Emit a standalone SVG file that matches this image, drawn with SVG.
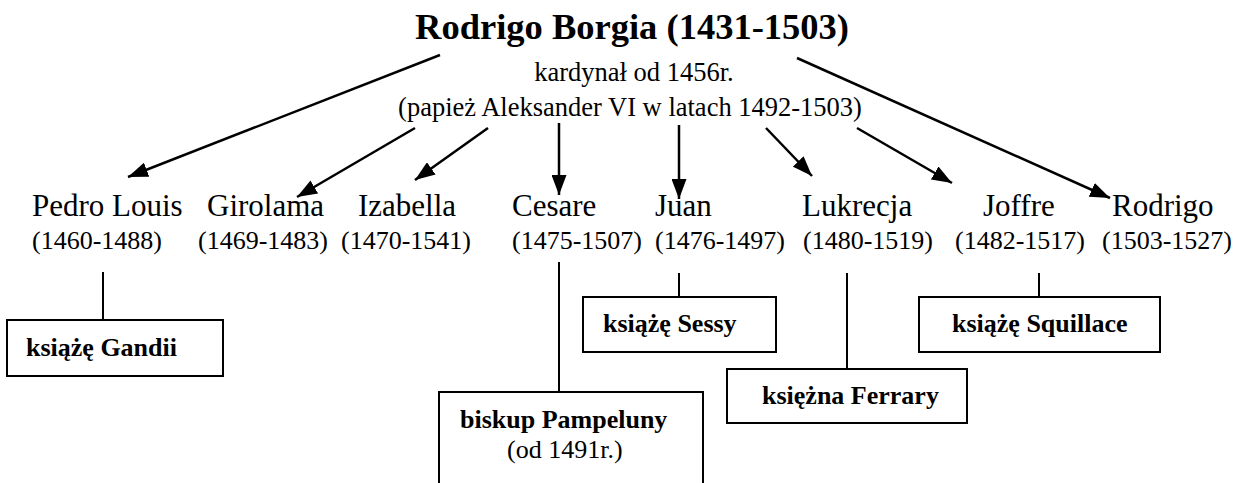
<svg xmlns="http://www.w3.org/2000/svg" width="1245" height="483" viewBox="0 0 1245 483">
<style>
text{font-family:"Liberation Serif","Times New Roman",serif;fill:#000}
.title{font-size:36.5px;font-weight:bold;text-anchor:middle}
.sub{font-size:26.5px;text-anchor:middle}
.name{font-size:31px}
.date{font-size:26px}
.lbl{font-size:26px;font-weight:bold}
.reg{font-size:26px}
.arrow{stroke:#000;stroke-width:2.5;fill:none;marker-end:url(#ah)}
.conn{stroke:#000;stroke-width:2;fill:none}
.box{stroke:#000;stroke-width:2;fill:#fff}
</style>
<defs>
<marker id="ah" markerUnits="userSpaceOnUse" markerWidth="20" markerHeight="15" refX="20" refY="7.5" orient="auto">
<path d="M0,0 L20,7.5 L0,15 z" fill="#000"/>
</marker>
</defs>
<rect width="1245" height="483" fill="#fff"/>
<g id="root">
<text class="title" x="632" y="39">Rodrigo Borgia (1431-1503)</text>
<text class="sub" x="634" y="81">kardynał od 1456r.</text>
<text class="sub" x="630" y="116">(papież Aleksander VI w latach 1492-1503)</text>
</g>
<g id="connectors">
<line class="arrow" x1="440" y1="55" x2="128" y2="177"/>
<line class="arrow" x1="415" y1="128" x2="297" y2="197"/>
<line class="arrow" x1="488" y1="128" x2="415" y2="180"/>
<line class="arrow" x1="559" y1="123" x2="559" y2="195"/>
<line class="arrow" x1="679" y1="125" x2="679" y2="199"/>
<line class="arrow" x1="766" y1="128" x2="812" y2="176"/>
<line class="arrow" x1="857" y1="128" x2="952" y2="183"/>
<line class="arrow" x1="797" y1="58" x2="1110" y2="198"/>
<line class="conn" x1="103" y1="272" x2="103" y2="320"/>
<line class="conn" x1="559" y1="262" x2="559" y2="392"/>
<line class="conn" x1="679" y1="273" x2="679" y2="297"/>
<line class="conn" x1="847" y1="273" x2="847" y2="369"/>
<line class="conn" x1="1039" y1="273" x2="1039" y2="297"/>
</g>
<g id="pedro"><text class="name" x="32" y="216">Pedro Louis</text><text class="date" x="32" y="249">(1460-1488)</text></g>
<g id="girolama"><text class="name" x="207" y="216">Girolama</text><text class="date" x="198" y="249">(1469-1483)</text></g>
<g id="izabella"><text class="name" x="358" y="216">Izabella</text><text class="date" x="341" y="249">(1470-1541)</text></g>
<g id="cesare"><text class="name" x="512" y="216">Cesare</text><text class="date" x="512" y="249">(1475-1507)</text></g>
<g id="juan"><text class="name" x="655" y="216">Juan</text><text class="date" x="655" y="249">(1476-1497)</text></g>
<g id="lukrecja"><text class="name" x="802" y="216">Lukrecja</text><text class="date" x="803" y="249">(1480-1519)</text></g>
<g id="joffre"><text class="name" x="983" y="216">Joffre</text><text class="date" x="955" y="249">(1482-1517)</text></g>
<g id="rodrigo"><text class="name" x="1112" y="216">Rodrigo</text><text class="date" x="1102" y="249">(1503-1527)</text></g>
<g id="gandii"><rect class="box" x="7" y="320" width="216" height="56"/><text class="lbl" x="26" y="356">książę Gandii</text></g>
<g id="pampeluny"><rect class="box" x="439" y="392" width="264" height="110"/><text class="lbl" x="460" y="428">biskup Pampeluny</text><text class="reg" x="507" y="458">(od 1491r.)</text></g>
<g id="sessy"><rect class="box" x="583" y="297" width="193" height="55"/><text class="lbl" x="603" y="332">książę Sessy</text></g>
<g id="ferrary"><rect class="box" x="727" y="369" width="240" height="54"/><text class="lbl" x="762" y="404">księżna Ferrary</text></g>
<g id="squillace"><rect class="box" x="919" y="297" width="241" height="55"/><text class="lbl" x="952" y="332">książę Squillace</text></g>
</svg>
